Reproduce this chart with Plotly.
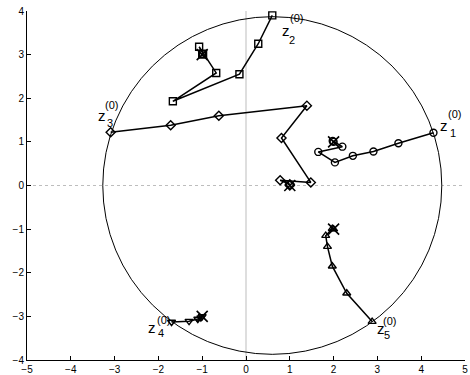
import plotly.graph_objects as go

# Trajectories of the iteration, starting points z_k^(0) on the circle
z1_x = [4.28, 3.48, 2.91, 2.44, 2.03, 1.65, 2.20, 1.98, 2.00]
z1_y = [1.21, 0.97, 0.78, 0.68, 0.53, 0.77, 0.89, 1.02, 1.00]

z2_x = [0.60, 0.28, -0.15, -1.67, -0.68, -1.07, -0.98, -1.00]
z2_y = [3.90, 3.25, 2.55, 1.93, 2.58, 3.18, 3.02, 3.00]

z3_x = [-3.09, -1.72, -0.62, 1.39, 0.81, 1.48, 0.78, 1.00, 1.00]
z3_y = [1.22, 1.38, 1.60, 1.83, 1.09, 0.07, 0.12, 0.03, 0.00]

z4_x = [-1.70, -1.30, -1.10, -1.03, -1.00]
z4_y = [-3.13, -3.11, -3.06, -3.03, -3.00]

z5_x = [2.88, 2.30, 1.97, 1.86, 1.82, 1.97, 2.00]
z5_y = [-3.12, -2.47, -1.85, -1.40, -1.15, -0.99, -1.00]

# Roots of the polynomial
root_x = [2.0, -1.0, 1.0, -1.0, 2.0]
root_y = [1.0, 3.0, 0.0, -3.0, -1.0]

# Initial circle
circle_cx = 0.6
circle_cy = 0.0
circle_r = 3.87

x_ticks = [-5, -4, -3, -2, -1, 0, 1, 2, 3, 4, 5]
y_ticks = [-4, -3, -2, -1, 0, 1, 2, 3, 4]

labels = ["1", "2", "3", "4", "5"]

fig = go.Figure()

series = [
    (z1_x, z1_y, "circle-open"),
    (z2_x, z2_y, "square-open"),
    (z3_x, z3_y, "diamond-open"),
    (z4_x, z4_y, "triangle-down-open"),
    (z5_x, z5_y, "triangle-up-open"),
]
for xs, ys, sym in series:
    fig.add_trace(go.Scatter(
        x=xs, y=ys, mode="lines+markers",
        line=dict(color="black", width=1.5),
        marker=dict(symbol=sym, size=7, color="black", line=dict(color="black", width=1.4)),
        showlegend=False, cliponaxis=False,
    ))

fig.add_trace(go.Scatter(
    x=root_x, y=root_y, mode="markers",
    marker=dict(symbol="x-thin-open", size=11, color="black", line=dict(color="black", width=1.6)),
    showlegend=False,
))

shapes = [
    dict(type="line", xref="x", yref="paper", x0=0, x1=0, y0=0, y1=1,
         line=dict(color="#bdbdbd", width=1), layer="below"),
    dict(type="line", xref="paper", yref="y", x0=0, x1=1, y0=0, y1=0,
         line=dict(color="#bdbdbd", width=1, dash="dot"), layer="below"),
    dict(type="circle", xref="x", yref="y",
         x0=circle_cx - circle_r, x1=circle_cx + circle_r,
         y0=circle_cy - circle_r, y1=circle_cy + circle_r,
         line=dict(color="black", width=1), layer="below"),
]

# label offsets (pixels) for "z", "(0)", subscript relative to start points
offsets = [
    ((11, 7), (21, 19), (20, 0)),
    ((14, -15), (24, -3), (20, -25)),
    ((-9, 17), (1, 27), (-1, 9)),
    ((-20, -5), (-8, 2), (-11, -11)),
    ((9, -7), (17, 1), (15, -13)),
]
starts = [(z1_x[0], z1_y[0]), (z2_x[0], z2_y[0]), (z3_x[0], z3_y[0]),
          (z4_x[0], z4_y[0]), (z5_x[0], z5_y[0])]
ann = []
font_main = dict(family="Liberation Sans, Arial, sans-serif", size=15, color="black")
font_small = dict(family="Liberation Sans, Arial, sans-serif", size=11, color="black")
for (sx, sy), lab, (oz, os, ob) in zip(starts, labels, offsets):
    ann.append(dict(x=sx, y=sy, xref="x", yref="y", text="z", showarrow=False,
                    xshift=oz[0], yshift=oz[1], font=font_main, borderpad=0))
    ann.append(dict(x=sx, y=sy, xref="x", yref="y", text="(0)", showarrow=False,
                    xshift=os[0], yshift=os[1], font=font_small, borderpad=0))
    ann.append(dict(x=sx, y=sy, xref="x", yref="y", text=lab, showarrow=False,
                    xshift=ob[0], yshift=ob[1], font=font_small, borderpad=0))

axis_common = dict(
    ticks="inside", ticklen=4, tickcolor="black", showgrid=False, zeroline=False,
    showline=True, linecolor="black", linewidth=1, mirror=False, automargin=False,
    ticklabeloverflow="allow", tickfont=dict(size=10),
)

fig.update_layout(
    width=470, height=375,
    margin=dict(l=27, r=5, t=11, b=15),
    paper_bgcolor="white", plot_bgcolor="white",
    shapes=shapes, annotations=ann,
    font=dict(family="Liberation Sans, Arial, sans-serif", size=10, color="black"),
    xaxis=dict(range=[-5, 5], tickvals=x_ticks,
               ticktext=[str(v).replace("-", "\u2212") for v in x_ticks], **axis_common),
    yaxis=dict(range=[-4, 4], tickvals=y_ticks,
               ticktext=[str(v).replace("-", "\u2212") for v in y_ticks], **axis_common),
)

fig.write_html(
    "out.html",
    config={"displayModeBar": False},
    post_script="document.body.style.margin='0';document.body.style.overflow='hidden';",
)
